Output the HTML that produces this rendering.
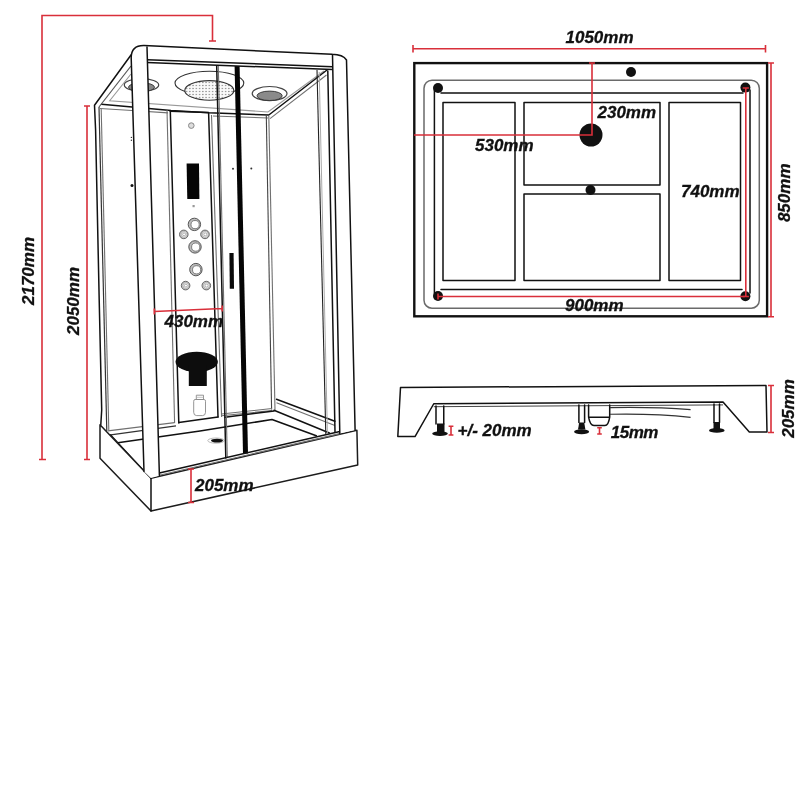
<!DOCTYPE html>
<html><head><meta charset="utf-8">
<style>
html,body{margin:0;padding:0;background:#fff;width:800px;height:800px;overflow:hidden}
svg{display:block;will-change:transform}
.t{font-family:"Liberation Sans",sans-serif;font-weight:bold;font-style:italic;font-size:17px;fill:#111;stroke:#111;stroke-width:0.3px}
.k{fill:none;stroke:#111;stroke-width:1.5;stroke-linejoin:round;stroke-linecap:round}
.kt{fill:none;stroke:#111;stroke-width:2.4}
.g{fill:none;stroke:#707070;stroke-width:1.1}
.lg{fill:none;stroke:#999;stroke-width:1.1}
.r{fill:none;stroke:#d92f3a;stroke-width:1.6}
</style></head><body>
<svg width="800" height="800" viewBox="0 0 800 800">
<rect width="800" height="800" fill="#fff"/>

<!-- ================= TOP VIEW ================= -->
<g id="top">
<rect x="414.3" y="63.1" width="352.8" height="253.2" class="kt"/>
<rect x="424" y="80.2" width="335.3" height="228" rx="8" fill="none" stroke="#6a6a6a" stroke-width="1.5"/>
<path class="k" stroke-width="1.8" stroke-linecap="butt" d="M441,93.1H743M441,289.6H742M434.4,90V293.5M750,90V293"/>
<rect x="443" y="102.5" width="72" height="178" class="k" stroke-width="2"/>
<rect x="524" y="102.5" width="136" height="82.5" class="k" stroke-width="2"/>
<rect x="524" y="194" width="136" height="86.5" class="k" stroke-width="2"/>
<rect x="669" y="102.5" width="71.5" height="178" class="k" stroke-width="2"/>
<g fill="#111">
<circle cx="438" cy="88" r="5"/><circle cx="745.4" cy="87.6" r="5"/>
<circle cx="438" cy="296" r="5"/><circle cx="745.4" cy="296.2" r="5"/>
<circle cx="631" cy="72" r="5"/>
<circle cx="591" cy="135" r="11.5"/>
<circle cx="590.5" cy="190" r="5"/>
</g>
<!-- red dims -->
<path class="r" d="M413,48.75H765.5M413,45V52.5M765.5,45V52.5"/>
<path class="r" d="M771,63V316.8M768,63H774M768,316.8H774"/>
<path class="r" d="M414,135H592V63M589,63H595"/>
<path class="r" d="M745.8,88V296.5M742.7,88H748.9M742.7,296.5H748.9"/>
<path class="r" d="M438,296.5H745M438,293.5V299.5"/>
<text class="t" x="565.5" y="42.5">1050mm</text>
<text class="t" x="475" y="151">530mm</text>
<text class="t" x="597.5" y="117.5">230mm</text>
<text class="t" x="681" y="196.5">740mm</text>
<text class="t" x="565" y="310.5">900mm</text>
<text class="t" transform="translate(790,192.8) rotate(-90)" text-anchor="middle">850mm</text>
</g>

<!-- ================= SIDE VIEW ================= -->
<g id="side">
<path class="k" d="M400.5,387.5L766,385.4L767,432L749.3,432L723,402L433.75,403.75L415,436.6L397.8,436.6Z"/>
<path fill="none" stroke="#444" d="M433.75,406.7L723,404.9" stroke-width="1"/>
<!-- legs -->
<path class="k" stroke-width="1.1" d="M436,406V424M443.75,406V424"/>
<path class="k" stroke-width="1.1" d="M578.9,405V422.5M584.6,405V422.5"/>
<path class="k" stroke-width="1.1" d="M714,404V422.5M719.5,404V422.5"/>
<g fill="#111">
<path d="M437,423.5h7.5v8.5h-7.5z"/><ellipse cx="440" cy="433.6" rx="7.8" ry="2.4"/>
<path d="M579.2,422.5h5l1.2,7h-7.4z"/><ellipse cx="581.6" cy="431.8" rx="7.5" ry="2.5"/>
<path d="M713.5,422h6.5v7h-6.5z"/><ellipse cx="716.8" cy="430.4" rx="7.8" ry="2.4"/>
</g>
<!-- drain trap -->
<path class="k" stroke-width="1.2" d="M588.6,405V417.2Q590,425.6 594,425.6H605Q608.4,425.6 609.7,417.2V405M588.6,417.2H609.7"/>
<path fill="none" stroke="#333" stroke-width="1.1" d="M610,407.6Q655,406.8 690.6,409.6M610,414.3Q655,413.4 690.6,417.4"/>
<!-- red -->
<path class="r" d="M771,385.5V432.5M768,385.5H774M768,432.5H774"/>
<path class="r" stroke-width="1.4" d="M451,426.3V435M448.6,426.3H453.4M448.6,435H453.4"/>
<path class="r" stroke-width="1.4" d="M599.5,427.8V434M597.2,427.8H601.8M597.2,434H601.8"/>
<text class="t" x="457.5" y="436">+/- 20mm</text>
<text class="t" x="610.8" y="437.9" letter-spacing="-0.5">15mm</text>
<text class="t" transform="translate(794,408.5) rotate(-90)" text-anchor="middle">205mm</text>
</g>

<!-- ================= SHOWER ================= -->
<defs>
<pattern id="dots" x="185" y="81" width="3.25" height="3" patternUnits="userSpaceOnUse">
<rect width="3.25" height="3" fill="#fafafa"/><ellipse cx="1.6" cy="1.5" rx="0.6" ry="0.75" fill="#6a6a6a"/>
</pattern>
</defs>
<g id="shower">
<!-- ceiling -->
<path class="lg" d="M131,74L109.7,100.7L268,112L324,71"/>
<ellipse cx="209.4" cy="83.1" rx="34.4" ry="11.9" fill="none" stroke="#333" stroke-width="1.1"/>
<ellipse cx="209.3" cy="90.4" rx="24.5" ry="9.8" fill="url(#dots)" stroke="#333" stroke-width="1.1"/>
<ellipse cx="141.5" cy="85" rx="17.2" ry="6.3" fill="none" stroke="#444" stroke-width="1.2"/>
<ellipse cx="141.5" cy="87.2" rx="13" ry="4.4" fill="#888" stroke="#333" stroke-width="0.9"/>
<ellipse cx="269.6" cy="93.6" rx="17.4" ry="7.1" fill="none" stroke="#444" stroke-width="1.2"/>
<ellipse cx="269.6" cy="95.8" rx="12.6" ry="4.7" fill="#8a8a8a" stroke="#333" stroke-width="0.9"/>
<!-- back wall top + right ceiling diagonal -->
<path class="k" stroke-width="1.4" d="M101.5,104.3L132,106.9L171,110.5L208.6,112.8L268.8,115L327,70"/>
<path class="g" d="M270,118.6L326.5,75"/>
<path class="g" d="M100,108.5L132,110.5L168,113M148,111.5L168,112.8"/>
<!-- left back panel -->
<path class="g" d="M167,110L174.6,423"/>
<path class="k" stroke-width="1.2" d="M170.3,111L178.8,423"/>
<!-- column -->
<path class="k" stroke-width="1.2" d="M170.3,111.2L208.6,112.6L218,417"/>
<path class="g" d="M211.5,115L221.6,417"/>
<path class="k" stroke-width="1.1" d="M178.8,422.5L218,417"/>
<circle cx="191.3" cy="125.6" r="2.8" fill="#ddd" stroke="#888" stroke-width="1"/>
<path d="M186.6,163.6L199,163.6L199.4,199L187.3,199Z" fill="#050505"/>
<rect x="192.5" y="205" width="2.2" height="2.2" fill="#999"/>
<circle cx="194.4" cy="224.4" r="6.2" fill="#bdbdbd" stroke="#555" stroke-width="1"/><circle cx="195.1" cy="224.6" r="4.1" fill="#fff" stroke="#666" stroke-width="0.8"/>
<circle cx="195" cy="246.9" r="6.2" fill="#bdbdbd" stroke="#555" stroke-width="1"/><circle cx="195.7" cy="247.1" r="4.1" fill="#fff" stroke="#666" stroke-width="0.8"/>
<circle cx="195.9" cy="269.6" r="6.2" fill="#bdbdbd" stroke="#555" stroke-width="1"/><circle cx="196.6" cy="269.8" r="4.1" fill="#fff" stroke="#666" stroke-width="0.8"/>
<circle cx="183.8" cy="234.4" r="4.3" fill="#c4c4c4" stroke="#5a5a5a" stroke-width="0.9"/><circle cx="184.10000000000002" cy="234.4" r="2.8" fill="#fff" stroke="#999" stroke-width="0.6"/><circle cx="184.10000000000002" cy="234.4" r="1.5" fill="none" stroke="#999" stroke-width="0.8"/>
<circle cx="205" cy="234.4" r="4.3" fill="#c4c4c4" stroke="#5a5a5a" stroke-width="0.9"/><circle cx="205.3" cy="234.4" r="2.8" fill="#fff" stroke="#999" stroke-width="0.6"/><circle cx="205.3" cy="234.4" r="1.5" fill="none" stroke="#999" stroke-width="0.8"/>
<circle cx="185.6" cy="285.6" r="4.3" fill="#c4c4c4" stroke="#5a5a5a" stroke-width="0.9"/><circle cx="185.9" cy="285.6" r="2.8" fill="#fff" stroke="#999" stroke-width="0.6"/><circle cx="185.9" cy="285.6" r="1.5" fill="none" stroke="#999" stroke-width="0.8"/>
<circle cx="206.3" cy="285.6" r="4.3" fill="#c4c4c4" stroke="#5a5a5a" stroke-width="0.9"/><circle cx="206.60000000000002" cy="285.6" r="2.8" fill="#fff" stroke="#999" stroke-width="0.6"/><circle cx="206.60000000000002" cy="285.6" r="1.5" fill="none" stroke="#999" stroke-width="0.8"/>
<!-- seat -->
<ellipse cx="196.7" cy="361.8" rx="21.2" ry="10.1" fill="#0d0d0d"/>
<rect x="188.8" y="365" width="18" height="21" fill="#0d0d0d"/>
<!-- bottle -->
<path d="M196.3,395.2h7.2v4.3h-7.2zM196,399.5h8.2q1.3,0 1.3,1.8v11q0,3.3 -3,3.3h-5.8q-3,0 -3,-3.3v-11q0,-1.8 1.3,-1.8z" fill="#fff" stroke="#8a8a8a" stroke-width="0.9"/><path d="M196.3,397.3h7.2" stroke="#aaa" stroke-width="0.7"/>
<!-- left back-panel dots -->
<circle cx="131.4" cy="137.4" r="0.7" fill="#333"/><circle cx="131.4" cy="140.2" r="0.7" fill="#333"/>
<circle cx="132" cy="185.6" r="1.5" fill="#111"/>
<circle cx="233" cy="168.8" r="1" fill="#333"/><circle cx="251.3" cy="168.5" r="1" fill="#333"/>
<!-- back right panel (behind door) -->
<path class="g" d="M213,116L268,118"/>
<path fill="none" stroke="#444" stroke-width="1.1" d="M266.3,115.5L271.6,409.6"/>
<path class="g" d="M268.8,116L275,410"/>
<path class="g" d="M221.5,414L272,408.5M221.5,415.8L272,410.5"/>
<path class="k" stroke-width="1.1" d="M225,417.2L274,411"/>
<!-- left panel bottom rails -->
<path class="g" d="M107.9,430.9L174.6,422.6"/><path fill="none" stroke="#333" stroke-width="1.2" d="M109,435.2L176,425.8"/>
<!-- floor -->
<path class="k" stroke-width="1.2" d="M117.8,442.8L200,431L272,419.5L316.3,435.7"/>
<path class="k" stroke-width="1.1" d="M110.6,435L143.6,470.7"/>
<ellipse cx="216" cy="440.6" rx="8.2" ry="2.6" fill="#fff" stroke="#aaa" stroke-width="0.8"/>
<ellipse cx="217" cy="440.6" rx="6" ry="1.9" fill="#111"/>
<!-- right side wall -->
<path class="k" stroke-width="1.1" d="M276.5,399.3L334.9,421.3"/>
<path class="g" d="M276.5,402.7L334.9,425.4"/>
<path class="k" stroke-width="1.1" d="M274,410.3L329.4,433"/>
<path fill="none" stroke="#222" stroke-width="1.1" d="M317,70L325.8,434"/>
<path fill="none" stroke="#aaa" stroke-width="1" d="M319.2,72L327.4,433"/>
<path class="k" stroke-width="1.1" d="M327.8,71L335,432"/>
<!-- door -->
<path class="k" stroke-width="1.3" d="M216.7,66L225.8,458"/>
<path class="g" d="M218.3,66L227.3,458"/>
<path d="M234.6,66L239.6,66L248,453.5L243,453.5Z" fill="#050505"/>
<path d="M229.4,253L233.6,253L234,288.8L229.8,288.8Z" fill="#0a0a0a"/>
<!-- left side glass -->
<path class="k" stroke-width="1.5" d="M131,55L94.5,105.2L95.6,130L99.2,300L101.7,410L100.8,424.7"/>
<path fill="none" stroke="#555" stroke-width="1.2" d="M131,66L99,107"/>
<path fill="none" stroke="#333" stroke-width="1.2" d="M99,107L106.8,431"/><path class="g" d="M101.2,109L108.8,430"/>
<!-- base tray -->
<path d="M100,424.7L100,458.3L151,511L357.7,465L356.9,430.3L151,478.3Z" fill="#fff" stroke="#1c1c1c" stroke-width="1.5" stroke-linejoin="round"/>
<path class="k" stroke-width="1.3" d="M151,478.3V511"/>
<path class="k" stroke-width="1.1" d="M159.4,473L339.8,431.5"/>
<path class="g" d="M159.4,475.3L339.8,433.6"/>
<!-- front frame -->
<path d="M147,59.7L332.5,66.7L332,54.3L138,46.3Z" fill="#fff"/>
<path class="k" stroke-width="1.5" d="M147,59.7L332.5,66.7"/>
<path class="k" stroke-width="1.2" d="M147,62.5L332.5,69.6"/>
<path d="M144,471.5L131.2,58Q131,45.4 144,45.6L147,47L159.4,475.8L150.8,478Z" fill="#fff"/>
<path d="M339.8,433.4L332.5,54.5Q332,54.3 332,54.3Q343,54.5 346.5,60L355.1,430Z" fill="#fff"/>
<path class="k" stroke-width="1.6" d="M144,471.5L131.2,58Q131,45.4 144,45.6L332,54.3Q343,54.5 346.5,60L355.1,430"/>
<path class="k" stroke-width="1.5" d="M147,47L159.4,475.5"/>
<path class="k" stroke-width="1.5" d="M332.5,54.5L339.8,433.4"/>
</g>

<!-- ================= SHOWER DIMS ================= -->
<path class="r" d="M42,459.5V15.5H212.5V41M39,459.5H46M209,41H216"/>
<path class="r" d="M87,106V459.5M84,106H90M84,459.5H90"/>
<path class="r" d="M154.3,311.5L222.2,308.5M154.3,308.5V314.5M222.2,305.5V311.5"/>
<path class="r" d="M191,469V502.5M188,469H194M188,502.5H194"/>
<text class="t" x="164.5" y="327.3">430mm</text>
<text class="t" x="195" y="491">205mm</text>
<text class="t" transform="translate(34,271) rotate(-90)" text-anchor="middle">2170mm</text>
<text class="t" transform="translate(79,301) rotate(-90)" text-anchor="middle">2050mm</text>
</svg>
</body></html>
